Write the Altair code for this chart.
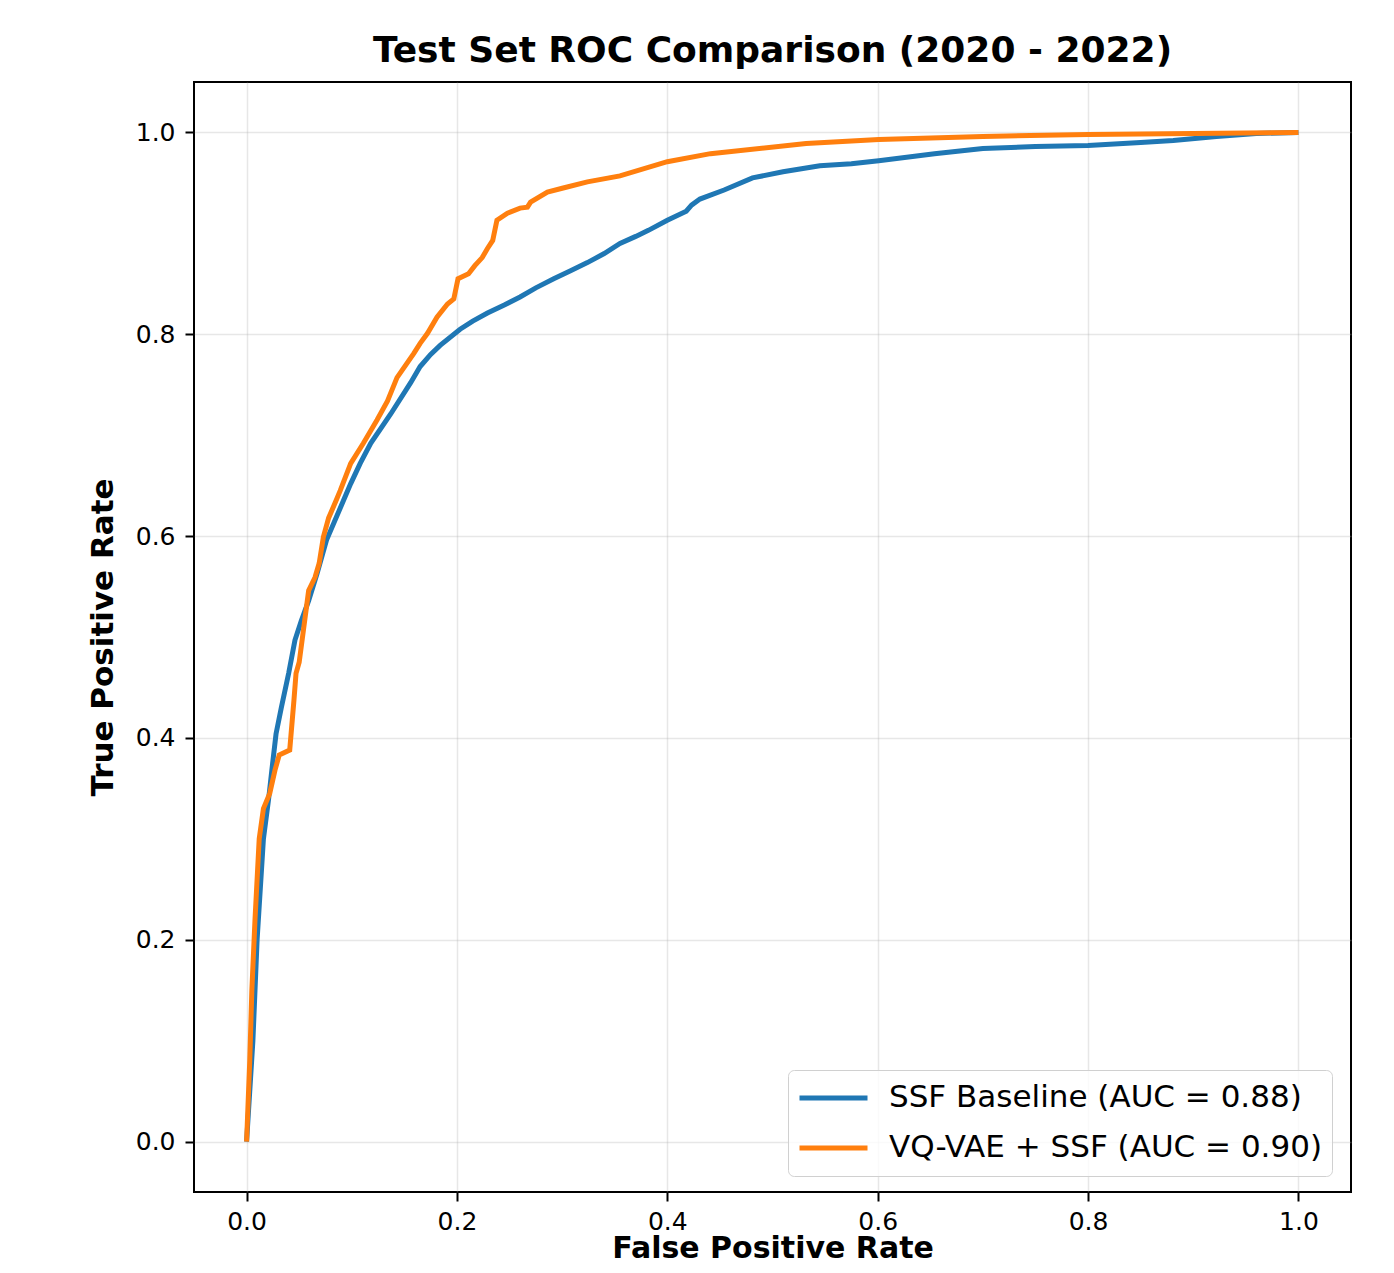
import altair as alt
import pandas as pd

# SSF Baseline ROC points
fpr_base = [0.0, 0.003, 0.006, 0.010, 0.016, 0.021, 0.024, 0.028, 0.033, 0.040, 0.046,
            0.052, 0.059, 0.067, 0.076, 0.092, 0.099, 0.108, 0.118, 0.137, 0.156,
            0.165, 0.175, 0.184, 0.203, 0.215, 0.229, 0.245, 0.260, 0.275, 0.292,
            0.308, 0.324, 0.340, 0.355, 0.370, 0.382, 0.400, 0.418, 0.423, 0.431,
            0.454, 0.481, 0.510, 0.545, 0.575, 0.601, 0.654, 0.700, 0.750, 0.800,
            0.850, 0.881, 0.922, 0.960, 1.0]
tpr_base = [0.0, 0.05, 0.10, 0.20, 0.30, 0.34, 0.368, 0.404, 0.430, 0.464, 0.497,
            0.516, 0.536, 0.563, 0.596, 0.635, 0.652, 0.672, 0.692, 0.721, 0.752,
            0.768, 0.780, 0.789, 0.805, 0.813, 0.821, 0.829, 0.837, 0.846, 0.855,
            0.863, 0.871, 0.880, 0.890, 0.897, 0.903, 0.913, 0.922, 0.928, 0.934,
            0.943, 0.955, 0.961, 0.967, 0.969, 0.972, 0.979, 0.984, 0.986, 0.987,
            0.990, 0.992, 0.996, 0.999, 1.0]

# VQ-VAE + SSF ROC points
fpr_vq = [0.0, 0.003, 0.005, 0.008, 0.012, 0.016, 0.022, 0.027, 0.031, 0.041, 0.045,
          0.047, 0.050, 0.059, 0.065, 0.069, 0.073, 0.078, 0.085, 0.089, 0.099,
          0.111, 0.124, 0.134, 0.143, 0.159, 0.165, 0.172, 0.181, 0.191, 0.197,
          0.201, 0.211, 0.217, 0.224, 0.229, 0.234, 0.238, 0.248, 0.260, 0.267,
          0.270, 0.286, 0.301, 0.324, 0.355, 0.400, 0.441, 0.532, 0.601, 0.700,
          0.800, 0.900, 1.0]
tpr_vq = [0.0, 0.08, 0.15, 0.22, 0.30, 0.33, 0.345, 0.368, 0.383, 0.388, 0.437,
          0.464, 0.475, 0.546, 0.559, 0.573, 0.599, 0.618, 0.635, 0.645, 0.672,
          0.692, 0.715, 0.734, 0.757, 0.781, 0.791, 0.801, 0.817, 0.830, 0.835,
          0.855, 0.860, 0.868, 0.876, 0.885, 0.893, 0.913, 0.920, 0.925, 0.926,
          0.931, 0.941, 0.945, 0.951, 0.957, 0.971, 0.979, 0.989, 0.993, 0.996,
          0.998, 0.999, 1.0]

series_names = ["SSF Baseline (AUC = 0.88)", "VQ-VAE + SSF (AUC = 0.90)"]
series_colors = ["#1f77b4", "#ff7f0e"]
ticks = [0.0, 0.2, 0.4, 0.6, 0.8, 1.0]

rows = []
for name, xs, ys in [(series_names[0], fpr_base, tpr_base), (series_names[1], fpr_vq, tpr_vq)]:
    for i, (x, y) in enumerate(zip(xs, ys)):
        rows.append({"model": name, "fpr": x, "tpr": y, "idx": i})
df = pd.DataFrame(rows)

FONT = "DejaVu Sans"

chart = alt.Chart(df).mark_line(strokeWidth=5, strokeCap="butt", strokeJoin="miter", clip=True).encode(
    x=alt.X("fpr:Q", title="False Positive Rate",
            scale=alt.Scale(domain=[-0.05, 1.05], nice=False, zero=False),
            axis=alt.Axis(values=ticks, format=".1f", titleY=65, titleBaseline="alphabetic",
                          titleFontSize=30, labelPadding=8)),
    y=alt.Y("tpr:Q", title="True Positive Rate",
            scale=alt.Scale(domain=[-0.05, 1.05], nice=False, zero=False),
            axis=alt.Axis(values=ticks, format=".1f", titleX=-91, titleY=555,
                          titleAngle=-90, titleAlign="center", titleBaseline="middle")),
    color=alt.Color("model:N", title=None,
                    scale=alt.Scale(domain=series_names, range=series_colors),
                    legend=alt.Legend(orient="none", legendX=594, legendY=988,
                                      symbolType="stroke", symbolSize=4624,
                                      symbolStrokeWidth=5, clipHeight=38,
                                      rowPadding=12, labelOffset=19,
                                      labelFontSize=31, labelFont=FONT, labelColor="#000000",
                                      labelLimit=600,
                                      padding=9, cornerRadius=6,
                                      strokeColor="#d0d0d0", fillColor="rgba(255,255,255,0.8)")),
    order="idx:Q",
).properties(
    width=1157,
    height=1110,
    background="white",
    title=alt.TitleParams("Test Set ROC Comparison (2020 - 2022)", fontSize=36, font=FONT,
                          fontWeight="bold", color="#000000", anchor="middle", offset=12),
    autosize=alt.AutoSizeParams(type="none"),
    padding={"left": 186, "top": 74, "right": 35, "bottom": 73},
).configure_view(
    stroke="#000000", strokeWidth=2
).configure_axis(
    domain=False,
    grid=True, gridColor="#b0b0b0", gridOpacity=0.3, gridWidth=1.5,
    ticks=True, tickColor="#000000", tickWidth=2, tickSize=9,
    labelFont=FONT, labelFontSize=25, labelColor="#000000", labelPadding=10,
    titleFont=FONT, titleFontSize=31, titleFontWeight="bold", titleColor="#000000",
)

chart.save("out.html", embed_options={"renderer": "svg", "actions": False})
